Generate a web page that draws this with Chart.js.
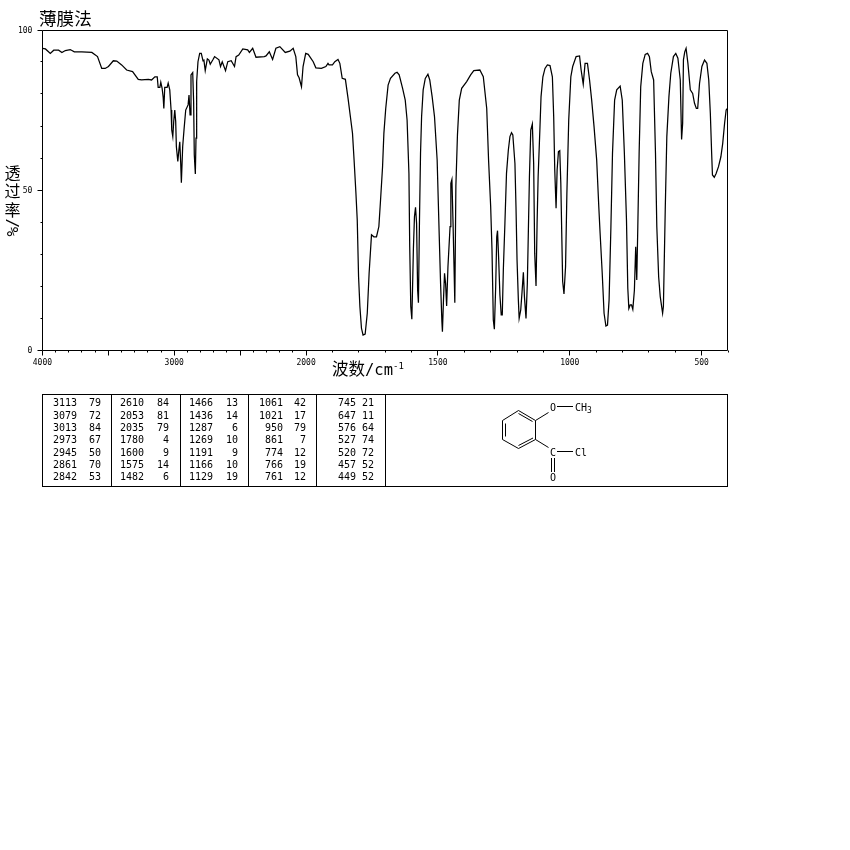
<!DOCTYPE html>
<html><head><meta charset="utf-8">
<script src="https://cdn.jsdelivr.net/npm/chart.js@4"></script>
<style>
html,body{margin:0;padding:0;background:#fff;}
#wrap{position:relative;width:850px;height:850px;overflow:hidden;background:#fff;}
canvas{position:absolute;left:0;top:0;}
.cjk{position:absolute;font-family:"Noto Sans CJK SC",sans-serif;color:#000;line-height:1;white-space:nowrap;}
.num{position:absolute;font:10px "DejaVu Sans Mono",monospace;color:#000;line-height:12px;text-align:right;white-space:nowrap;}
.rule{position:absolute;background:#000;}
svg{position:absolute;left:0;top:0;}
</style></head><body>
<div id="wrap"><canvas id="c" width="850" height="850"></canvas></div>
<script>
const wavenumbers=[4000,3997,3977,3940,3914,3877,3852,3826,3789,3758,3701,3625,3582,3550,3524,3499,3462,3436,3399,3361,3316,3273,3248,3197,3172,3147,3129,3122,3109,3102,3092,3084,3079,3072,3054,3046,3034,3024,3019,3011,3004,2996,2989,2984,2973,2966,2958,2951,2946,2936,2926,2913,2895,2888,2880,2873,2860,2853,2848,2840,2835,2830,2820,2807,2795,2782,2775,2765,2749,2737,2727,2707,2694,2661,2649,2636,2611,2594,2568,2543,2531,2511,2480,2443,2430,2405,2380,2317,2304,2279,2254,2229,2199,2158,2123,2098,2078,2065,2053,2035,2023,2003,1992,1973,1963,1942,1925,1917,1913,1900,1891,1879,1872,1863,1851,1841,1832,1824,1818,1811,1806,1801,1796,1790,1784,1776,1768,1761,1752,1743,1733,1724,1718,1710,1705,1698,1689,1680,1663,1655,1647,1634,1624,1617,1610,1607,1603,1599,1597,1593,1589,1585,1581,1577,1574,1570,1566,1562,1556,1548,1538,1531,1522,1513,1503,1495,1490,1485,1483,1479,1475,1471,1467,1462,1454,1451,1447,1443,1439,1436,1432,1426,1419,1410,1391,1376,1364,1341,1328,1315,1308,1300,1295,1290,1286,1281,1277,1274,1270,1265,1260,1256,1252,1246,1240,1233,1227,1221,1216,1208,1204,1200,1195,1192,1186,1181,1176,1172,1166,1161,1157,1153,1148,1142,1137,1133,1128,1124,1120,1113,1109,1102,1094,1085,1075,1066,1061,1057,1052,1048,1043,1038,1034,1030,1027,1022,1016,1011,1004,996,989,976,963,957,949,942,933,925,917,908,898,890,885,877,870,863,857,851,844,838,830,822,809,801,793,785,780,776,771,766,761,755,750,746,742,737,731,723,714,705,698,691,682,675,670,663,657,648,645,638,632,624,617,607,598,590,581,576,572,569,564,559,552,543,534,527,520,515,508,499,489,480,473,467,462,459,452,445,436,427,420,413,407,402,400];
const transmittance=[94.6,94.6,94.4,93.0,94.0,94.0,93.3,93.9,94.2,93.5,93.5,93.3,92.0,88.3,88.3,88.9,90.7,90.6,89.4,87.8,87.3,84.9,84.7,84.9,84.7,85.7,85.7,82.4,82.4,84.0,82.1,79.3,75.8,82.4,82.4,83.7,81.6,75.3,69.1,67.0,71.7,75.3,71.7,63.9,59.2,62.3,65.4,58.7,52.6,63.9,69.1,75.3,76.9,80,73.8,86.3,87,77.9,61.3,55.3,66.5,84.2,90.4,93,93,90.7,90.9,87.6,91.3,90.9,89.6,91,92,91,88.9,90.4,87.6,90.4,90.7,88.9,92,92.5,94.4,94.1,93.3,94.6,91.8,92,92.2,93.5,91.1,94.6,95.1,93.3,93.7,94.6,92,86.3,85.4,82.6,88.9,93,92.7,90.4,88.5,88.3,88.9,89.9,89.4,89.4,90.4,91.1,89.9,85.2,84.9,79,73.2,68,59.7,49.3,40.9,23.2,13.9,7.1,5,5.3,11.8,24.3,36.3,35.7,35.7,38.9,46.7,57.6,68,75.8,83.1,85.2,86.8,87.1,86.3,82.1,78.4,72.2,55.5,32.6,13.9,9.9,17,32.1,42,44.9,39.9,19,15.1,40.9,61.8,73.2,81.6,85.2,86.5,84.7,79.5,73.2,59.7,35.7,21.1,9.2,6,15.9,24.3,21.1,14.1,26.4,38.9,52.4,53.6,40.9,26.4,15.1,51.4,67.5,78.4,82.1,84.2,86.3,87.6,87.8,85.7,75.8,59.7,45.1,31.6,9.7,6.8,20.1,35.7,37.6,29.5,17.5,11.3,11.3,25.3,39.9,55.5,62.8,67,68.2,67.5,58.6,45.1,28.4,15.9,10.2,12.8,18.5,24.6,17,10.2,21.1,37.8,54.5,69,70.9,58.6,30.5,20.3,39.9,54.5,70.1,79.5,85.7,88.3,89.4,89.2,85.7,73.2,56.6,44.6,56.6,62.3,62.6,52.4,34.7,21.7,17.8,26.4,49.3,72.2,85.7,88.9,92,92.2,87.8,83.4,89.9,89.9,84.7,78.4,70.1,59.7,45.1,36.8,24.3,11.8,7.8,8.1,15.9,38.9,61.8,78.4,81.6,82.8,78.4,61.8,40.9,19.6,13.3,14.4,14.4,13,19,32.6,22.2,38.9,61.8,82.6,89.9,92.7,93,92,87.3,84.7,61.8,38.9,23.2,17,11.8,13.9,44.1,67,79.5,86.8,92,93,91.5,84.7,66.1,71.1,91,93.5,94.6,89.9,81.6,80.5,77.4,75.8,75.8,83.6,88.9,90.9,89.9,84.7,74.3,61.8,55,54.3,55.5,57.6,60.7,64.9,71.1,75.3,75.8,75.8];
const xMinorTicks=[3900,3800,3700,3600,3400,3300,3200,3100,2900,2800,2700,2600,2400,2300,2200,2100,1900,1800,1700,1600,1400,1300,1200,1100,900,800,700,600,400];
const xLabelTicks=[4000,3500,3000,2500,2000,1500,1000,500];
const xLabelled=[4000,3000,2000,1500,1000,500];
const yLabelled=[0,50,100];
const peakWave=[[3113,3079,3013,2973,2945,2861,2842],[2610,2053,2035,1780,1600,1575,1482],[1466,1436,1287,1269,1191,1166,1129],[1061,1021,950,861,774,766,761],[745,647,576,527,520,457,449]];
const peakT=[[79,72,84,67,50,70,53],[84,81,79,4,9,14,6],[13,14,6,10,9,10,19],[42,17,79,7,12,19,12],[21,11,64,74,72,52,52]];
const chartTitle="薄膜法";
const xTitle="波数";
const xUnit="/cm";
const xPower="-1";
const yTitle=["透","过","率"];
const yUnit="%/";

const axisPos=w=>w>=2000?(4000-w)/2:1000+(2000-w);
const allTicks=[...xLabelTicks,...xMinorTicks];

const framePlugin={id:"frame",afterDraw(ch){
  const c=ch.ctx,a=ch.chartArea,sx=ch.scales.x,sy=ch.scales.y;
  c.save();c.strokeStyle="#000";c.lineWidth=1;c.beginPath();
  const lx=Math.floor(a.left)+.5,rx=Math.floor(a.right)-.5,ty=a.top-.5,by=a.bottom-.5;
  c.rect(lx,ty,rx-lx,by-ty);
  allTicks.forEach(w=>{const x=Math.floor(sx.getPixelForValue(axisPos(w)))+.5;
    const len=xLabelTicks.includes(w)?5:2;c.moveTo(x,by);c.lineTo(x,by+len);});
  for(let v=0;v<=100;v+=10){const y=Math.floor(sy.getPixelForValue(v))-.5;
    const len=v%50===0?5:2;c.moveTo(lx,y);c.lineTo(lx-len,y);}
  c.stroke();c.restore();
}};

new Chart(document.getElementById("c"),{
  type:"line",
  data:{datasets:[{data:wavenumbers.map((w,i)=>({x:axisPos(w),y:transmittance[i]})),
    borderColor:"#000",borderWidth:1.25,pointRadius:0,tension:0,fill:false,borderJoinStyle:"miter"}]},
  options:{responsive:false,animation:false,devicePixelRatio:1,
    layout:{padding:{left:0,top:31,right:122,bottom:469}},
    plugins:{legend:{display:false},tooltip:{enabled:false}},
    scales:{
      x:{type:"linear",min:0,max:2600,
        grid:{display:false,drawTicks:false},border:{display:false},
        afterBuildTicks:s=>{s.ticks=xLabelled.map(w=>({value:axisPos(w)}));},
        afterFit:s=>{s.height=30;},
        ticks:{autoSkip:false,maxRotation:0,padding:7,color:"#000",
          font:{family:"DejaVu Sans Mono",size:8},
          callback:v=>{const w=xLabelled.find(k=>axisPos(k)===v);return w===undefined?"":String(w);}}},
      y:{type:"linear",min:0,max:100,
        grid:{display:false,drawTicks:false},border:{display:false},
        afterBuildTicks:s=>{s.ticks=yLabelled.map(v=>({value:v}));},
        afterFit:s=>{s.width=42.4;},
        ticks:{autoSkip:false,padding:10,color:"#000",
          font:{family:"DejaVu Sans Mono",size:8}}}
    }},
  plugins:[framePlugin]
});

const wrap=document.getElementById("wrap");
function cjk(txt,left,top,size,extra){const d=document.createElement("div");d.className="cjk";
  d.textContent=txt;d.style.left=left+"px";d.style.top=top+"px";d.style.fontSize=size+"px";
  if(extra)Object.assign(d.style,extra);wrap.appendChild(d);return d;}
cjk(chartTitle,39,9,17.6);
yTitle.forEach((t,i)=>cjk(t,4.5,[164,182,201][i],16));
cjk(yUnit,4,220,16,{fontFamily:"DejaVu Sans Mono",transform:"rotate(-90deg)",transformOrigin:"50% 50%",width:"17px",textAlign:"center",letterSpacing:"-1px"});
const xt=cjk(xTitle,332,360,16.5);
const xu=document.createElement("span");xu.textContent=xUnit;
xu.style.cssText='font:15.5px "DejaVu Sans Mono",monospace;';xt.appendChild(xu);
const xp=document.createElement("span");xp.textContent=xPower;
xp.style.cssText='font:9px "DejaVu Sans Mono",monospace;position:relative;top:-6px;';xt.appendChild(xp);

function rule(l,t,w,h){const d=document.createElement("div");d.className="rule";
  d.style.cssText+=`left:${l}px;top:${t}px;width:${w}px;height:${h}px;`;wrap.appendChild(d);}
rule(42,394,686,1);rule(42,486,686,1);
[42,111,180,248,316,385,727].forEach(x=>rule(x,394,1,93));
const waveRight=[77,144,213,283,356],valRight=[101,169,238,306,374];
const rowTop=[397,410,422,434,447,459,471];
peakWave.forEach((col,i)=>col.forEach((w,r)=>{
  const a=document.createElement("div");a.className="num";a.textContent=w;
  a.style.right=(850-waveRight[i])+"px";a.style.top=rowTop[r]+"px";wrap.appendChild(a);
  const b=document.createElement("div");b.className="num";b.textContent=peakT[i][r];
  b.style.right=(850-valRight[i])+"px";b.style.top=rowTop[r]+"px";wrap.appendChild(b);
}));

const svgNS="http://www.w3.org/2000/svg";
const svg=document.createElementNS(svgNS,"svg");svg.setAttribute("width",850);svg.setAttribute("height",850);
const bonds=[[518.5,410.5,535.5,420.5],[535.5,420.5,535.5,439.5],[535.5,439.5,518.5,448.5],[518.5,448.5,502.5,439.5],[502.5,439.5,502.5,420.5],[502.5,420.5,518.5,410.5],
[518.5,413.5,532.5,421.5],[533,438,518.5,445.5],[505.5,436.5,505.5,423.5],
[535.5,420.5,548.5,412.5],[557,406.5,573,406.5],[535.5,439.5,548.5,447.5],[557,451.5,573,451.5],[551.5,458,551.5,472],[554.5,458,554.5,472]];
bonds.forEach(b=>{const l=document.createElementNS(svgNS,"line");
  ["x1","y1","x2","y2"].forEach((k,i)=>l.setAttribute(k,b[i]));
  l.setAttribute("stroke","#000");l.setAttribute("stroke-width","1");svg.appendChild(l);});
function st(x,y,parts){const t=document.createElementNS(svgNS,"text");t.setAttribute("x",x);t.setAttribute("y",y);
  t.setAttribute("font-family","DejaVu Sans Mono");t.setAttribute("font-size","10");t.setAttribute("fill","#000");
  parts.forEach(p=>{const s=document.createElementNS(svgNS,"tspan");s.textContent=p[0];
    if(p[1]){s.setAttribute("font-size",p[1]);s.setAttribute("dy",p[2]);}t.appendChild(s);});svg.appendChild(t);}
st(550,410.5,[["O"]]);st(575,410.5,[["CH"],["3","8","2"]]);
st(550,455.5,[["C"]]);st(575,455.5,[["Cl"]]);st(550,481,[["O"]]);
wrap.appendChild(svg);
</script></body></html>
